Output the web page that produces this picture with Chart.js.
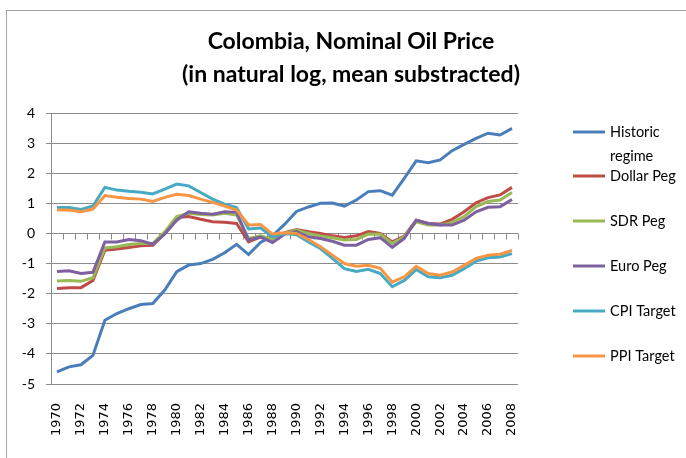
<!DOCTYPE html>
<html>
<head>
<meta charset="utf-8">
<script src="https://cdn.jsdelivr.net/npm/chart.js@4/dist/chart.umd.min.js"></script>
<style>
  html, body { margin: 0; padding: 0; background: #fff; }
  #wrap { position: relative; width: 686px; height: 458px; overflow: hidden; }
  #frame { position: absolute; left: 6px; top: 10px; width: 700px; height: 470px;
           border-left: 1px solid #a6a6a6; border-top: 1px solid #a6a6a6; pointer-events: none; }
</style>
</head>
<body>
<div id="wrap">
  <canvas id="c" width="686" height="458"></canvas>
  <div id="frame"></div>
</div>
<script>
const years = [1970,1971,1972,1973,1974,1975,1976,1977,1978,1979,1980,1981,1982,1983,1984,1985,1986,1987,1988,1989,1990,1991,1992,1993,1994,1995,1996,1997,1998,1999,2000,2001,2002,2003,2004,2005,2006,2007,2008];

const historicRegime = [-4.60,-4.43,-4.36,-4.05,-2.88,-2.66,-2.50,-2.36,-2.33,-1.88,-1.27,-1.05,-1.00,-0.86,-0.64,-0.36,-0.70,-0.30,-0.08,0.30,0.73,0.88,1.00,1.01,0.91,1.11,1.39,1.42,1.27,1.83,2.41,2.35,2.44,2.75,2.96,3.16,3.33,3.27,3.49];
const dollarPeg = [-1.83,-1.80,-1.80,-1.56,-0.56,-0.52,-0.47,-0.41,-0.39,0.00,0.53,0.56,0.47,0.39,0.37,0.33,-0.28,-0.11,-0.18,0.03,0.13,0.06,0.00,-0.08,-0.13,-0.08,0.06,0.00,-0.28,-0.09,0.44,0.33,0.31,0.47,0.72,1.02,1.19,1.28,1.53];
const sdrPeg = [-1.58,-1.56,-1.59,-1.47,-0.48,-0.44,-0.37,-0.33,-0.33,0.05,0.56,0.67,0.63,0.61,0.67,0.61,-0.17,-0.08,-0.20,0.00,0.11,0.00,-0.08,-0.14,-0.22,-0.20,-0.02,-0.03,-0.33,-0.11,0.39,0.28,0.28,0.36,0.56,0.89,1.06,1.11,1.36];
const euroPeg = [-1.26,-1.24,-1.33,-1.29,-0.28,-0.28,-0.20,-0.24,-0.36,-0.02,0.44,0.72,0.67,0.64,0.72,0.70,-0.22,-0.12,-0.30,-0.03,0.06,-0.11,-0.17,-0.26,-0.39,-0.39,-0.20,-0.14,-0.46,-0.17,0.44,0.33,0.28,0.28,0.44,0.72,0.87,0.89,1.13];
const cpiTarget = [0.86,0.86,0.80,0.91,1.53,1.44,1.40,1.37,1.31,1.47,1.64,1.58,1.36,1.14,0.97,0.86,0.15,0.18,-0.11,0.00,-0.04,-0.28,-0.50,-0.83,-1.17,-1.26,-1.19,-1.33,-1.77,-1.56,-1.20,-1.44,-1.47,-1.39,-1.17,-0.92,-0.81,-0.78,-0.67];
const ppiTarget = [0.78,0.78,0.72,0.81,1.26,1.20,1.16,1.14,1.06,1.20,1.30,1.26,1.14,1.03,0.91,0.78,0.28,0.30,-0.02,0.02,0.00,-0.20,-0.44,-0.72,-1.00,-1.09,-1.06,-1.16,-1.62,-1.44,-1.09,-1.33,-1.39,-1.28,-1.06,-0.83,-0.72,-0.69,-0.56];

const seriesNames = [["Historic","regime"],["Dollar Peg"],["SDR Peg"],["Euro Peg"],["CPI Target"],["PPI Target"]];
const seriesValues = [historicRegime, dollarPeg, sdrPeg, euroPeg, cpiTarget, ppiTarget];
const seriesColors = ["#4A7EBB","#BE4B48","#98B954","#7D60A0","#46AAC5","#F69544"];
const yTicks = [-5,-4,-3,-2,-1,0,1,2,3,4];
const titleLines = ["Colombia, Nominal Oil Price","(in natural log, mean substracted)"];

const gridColor = "#8c8c8c";

const zeroAxisPlugin = {
  id: 'zeroAxis',
  beforeDatasetsDraw(chart) {
    const y = chart.scales.y, ctx = chart.ctx;
    const y0 = Math.round(y.getPixelForValue(0)) + 0.5;
    ctx.save();
    ctx.strokeStyle = gridColor;
    ctx.lineWidth = 1;
    ctx.beginPath();
    ctx.moveTo(chart.chartArea.left, y0);
    ctx.lineTo(chart.chartArea.right, y0);
    const n = years.length;
    const step = (chart.chartArea.right - chart.chartArea.left) / n;
    for (let i = 1; i <= n; i++) {
      const xx = Math.round(chart.chartArea.left + i * step) + 0.5;
      ctx.moveTo(xx, y0);
      ctx.lineTo(xx, y0 + 6);
    }
    ctx.stroke();
    ctx.restore();
  }
};

const legendPlugin = {
  id: 'sideLegend',
  afterDraw(chart) {
    const ctx = chart.ctx;
    const lx = 573, tx = 610, y0 = 132, gap = 45;
    ctx.save();
    ctx.font = "14.5px Lato";
    ctx.textBaseline = "middle";
    ctx.fillStyle = "#000";
    seriesNames.forEach((lines, i) => {
      const yy = y0 + i * gap - (i > 0 ? 1 : 0);
      ctx.strokeStyle = seriesColors[i];
      ctx.lineWidth = 3;
      ctx.beginPath();
      ctx.moveTo(lx, yy);
      ctx.lineTo(lx + 32, yy);
      ctx.stroke();
      lines.forEach((t, k) => ctx.fillText(t, tx, yy + k * 24));
    });
    ctx.restore();
  }
};

new Chart(document.getElementById('c'), {
  type: 'line',
  data: {
    labels: years.map(String),
    datasets: seriesValues.map((vals, i) => ({
      label: seriesNames[i].join(' '),
      data: vals,
      borderColor: seriesColors[i],
      backgroundColor: seriesColors[i],
      borderWidth: 3,
      pointRadius: 0,
      tension: 0,
      fill: false,
      order: seriesValues.length - i
    }))
  },
  options: {
    responsive: false,
    animation: false,
    events: [],
    layout: { padding: { left: 16, right: 0, top: 0, bottom: 0 } },
    plugins: {
      legend: { display: false },
      tooltip: { enabled: false },
      title: {
        display: true,
        text: titleLines,
        color: '#000',
        font: { family: 'Lato', size: 23, weight: 'bold', lineHeight: 1.435 },
        padding: { top: 25.5, bottom: 21.5 }
      }
    },
    scales: {
      x: {
        type: 'category',
        offset: true,
        grid: { display: false, drawTicks: false },
        border: { display: false },
        ticks: {
          autoSkip: false,
          minRotation: 90,
          maxRotation: 90,
          padding: 19,
          color: '#000',
          font: { family: 'DejaVu Sans', size: 13 },
          callback: function (v, i) { return i % 2 === 0 ? years[i] : ''; }
        },
        afterFit(s) { s.height = 74; }
      },
      y: {
        min: -5,
        max: 4,
        afterBuildTicks(s) { s.ticks = yTicks.map(v => ({ value: v })); },
        grid: { color: gridColor, lineWidth: 1, drawTicks: true, tickLength: 5, tickColor: gridColor },
        border: { display: true, color: gridColor, width: 1 },
        ticks: { color: '#000', padding: 11, font: { family: 'Lato', size: 14 } },
        afterFit(s) { s.width = 35; }
      },
      y2: {
        position: 'right',
        min: -5,
        max: 4,
        grid: { display: false, drawTicks: false },
        border: { display: false },
        ticks: { display: false },
        afterFit(s) { s.width = 168; }
      }
    }
  },
  plugins: [zeroAxisPlugin, legendPlugin]
});
</script>
</body>
</html>
